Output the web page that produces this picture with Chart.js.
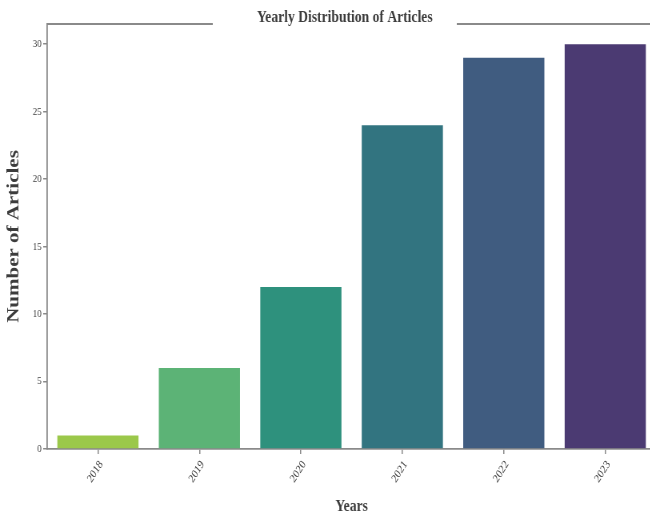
<!DOCTYPE html>
<html>
<head>
<meta charset="utf-8">
<script src="https://cdn.jsdelivr.net/npm/chart.js@4.4.0/dist/chart.umd.min.js"></script>
<style>
  html, body { margin: 0; padding: 0; background: #fff; overflow: hidden; width: 650px; height: 515px; }
  /* the original figure is squeezed sideways, so draw wide and squeeze */
  #chart { display: block; transform: scaleX(0.8); transform-origin: 0 0; }
</style>
</head>
<body>
<canvas id="chart" width="820" height="515"></canvas>
<script>
// data
const years = ['2018', '2019', '2020', '2021', '2022', '2023']
const articles = [1, 6, 12, 24, 29, 30]
const barColors = ['#9bc84a', '#5cb376', '#2e917d', '#327480', '#405c80', '#4b3a72']

const titleText = 'Yearly Distribution of Articles'
const spineColor = '#8a8a8a'
const textColor = '#3c3c3c'

// top spine with a gap for the title, then the title itself
const titleSpine = {
  id: 'titleSpine',
  afterDraw(chart) {
    const c = chart.ctx
    const a = chart.chartArea
    c.save()
    c.strokeStyle = spineColor
    c.lineWidth = 1.8
    c.beginPath()
    c.moveTo(a.left, a.top)
    c.lineTo(266, a.top)
    c.moveTo(571, a.top)
    c.lineTo(a.right, a.top)
    c.stroke()
    c.fillStyle = textColor
    c.font = 'bold 17px "Liberation Serif"'
    c.textAlign = 'center'
    c.textBaseline = 'alphabetic'
    c.fillText(titleText, 431, 22)
    c.restore()
  }
}

const ctx = document.getElementById('chart').getContext('2d')
const myChart = new Chart(ctx, {
  type: 'bar',
  data: {
    labels: years,
    datasets: [{
      label: 'Articles',
      data: articles,
      backgroundColor: barColors,
      borderWidth: 0,
      barPercentage: 0.8,
      categoryPercentage: 1.0
    }]
  },
  options: {
    responsive: false,
    animation: false,
    layout: { padding: { top: 24, right: 0, left: 0, bottom: 0 } },
    plugins: {
      legend: { display: false },
      tooltip: { enabled: false }
    },
    scales: {
      x: {
        offset: true,
        grid: { display: true, drawOnChartArea: false, offset: false, tickLength: 5, tickColor: spineColor, lineWidth: 1.5 },
        border: { display: true, color: spineColor, width: 1.8 },
        ticks: {
          color: textColor,
          font: { family: 'Liberation Serif', size: 12 },
          minRotation: 52,
          maxRotation: 52,
          padding: 4,
          labelOffset: 4
        },
        title: {
          display: true,
          text: 'Years',
          color: textColor,
          font: { family: 'Liberation Serif', size: 17, weight: 'bold', lineHeight: 1 },
          padding: { top: 0, bottom: 0 }
        },
        afterFit(scale) { scale.height = 66 }
      },
      y: {
        min: 0,
        max: 31.5,
        grid: { display: true, drawOnChartArea: false, tickLength: 5, tickColor: spineColor, lineWidth: 1.5 },
        border: { display: true, color: spineColor, width: 1.8 },
        ticks: {
          stepSize: 5,
          includeBounds: false,
          color: textColor,
          font: { family: 'Liberation Serif', size: 11 },
          padding: 2
        },
        title: {
          display: true,
          text: 'Number of Articles',
          color: textColor,
          font: { family: 'Liberation Serif', size: 21, weight: 'bold', lineHeight: 1 },
          padding: { top: 7, bottom: 0 }
        },
        afterFit(scale) { scale.width = 59 }
      }
    }
  },
  plugins: [titleSpine]
})
</script>
</body>
</html>
